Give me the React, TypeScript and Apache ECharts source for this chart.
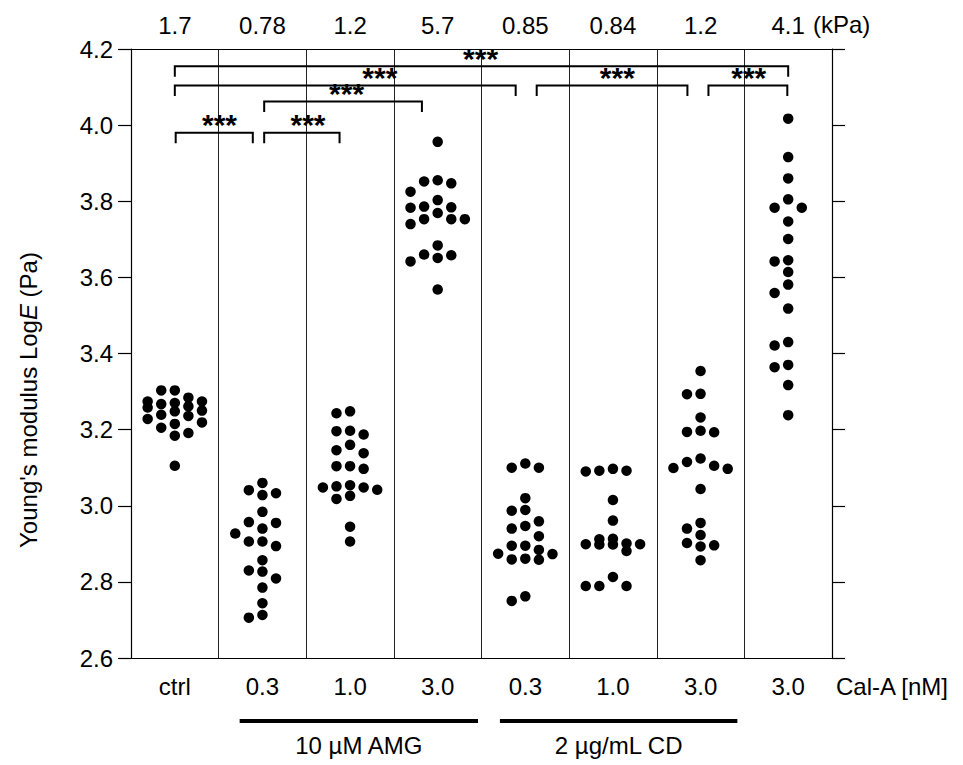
import React, { useEffect, useRef } from 'react';
import * as echarts from 'echarts';

// ---------- data ----------
const groupLabels = ['ctrl', '0.3', '1.0', '3.0', '0.3', '1.0', '3.0', '3.0'];
const modulusKPa = ['1.7', '0.78', '1.2', '5.7', '0.85', '0.84', '1.2', '4.1'];

const ctrl = [3.303, 3.270, 3.248, 3.215, 3.284, 3.261, 3.236, 3.191, 3.274, 3.258, 3.228, 3.184, 3.105, 3.303, 3.267, 3.239, 3.205, 3.274, 3.250, 3.219];
const amg03 = [3.041, 3.028, 3.033, 3.060, 2.984, 2.955, 2.957, 2.940, 2.927, 2.906, 2.906, 2.894, 2.857, 2.830, 2.827, 2.809, 2.785, 2.744, 2.713, 2.706];
const amg10 = [3.248, 3.243, 3.187, 3.196, 3.197, 3.160, 3.138, 3.146, 3.104, 3.097, 3.104, 3.048, 3.042, 3.051, 3.054, 3.048, 3.018, 3.026, 2.945, 2.906];
const amg30 = [3.956, 3.852, 3.847, 3.855, 3.825, 3.803, 3.784, 3.783, 3.786, 3.769, 3.753, 3.753, 3.740, 3.753, 3.684, 3.660, 3.651, 3.642, 3.658, 3.568];
const cd03 = [3.100, 3.100, 3.111, 3.020, 2.989, 2.987, 2.947, 2.940, 2.959, 2.920, 2.895, 2.884, 2.895, 2.874, 2.861, 2.858, 2.859, 2.873, 2.762, 2.750];
const cd10 = [3.092, 3.090, 3.092, 3.097, 3.015, 2.961, 2.912, 2.901, 2.898, 2.899, 2.881, 2.898, 2.913, 2.899, 2.813, 2.789, 2.789, 2.789];
const cd30 = [3.354, 3.294, 3.293, 3.232, 3.197, 3.193, 3.194, 3.124, 3.105, 3.097, 3.099, 3.115, 3.044, 2.955, 2.923, 2.940, 2.902, 2.893, 2.896, 2.857];
const calA30 = [4.017, 3.916, 3.860, 3.805, 3.783, 3.783, 3.747, 3.701, 3.645, 3.642, 3.614, 3.581, 3.559, 3.518, 3.430, 3.421, 3.370, 3.364, 3.317, 3.238];

const groupValues = [ctrl, amg03, amg10, amg30, cd03, cd10, cd30, calA30];

// significance brackets: [from (axis units), to, level (LogE), label position]
const brackets = [
  [0.5, 7.5, 4.155, 3.99],
  [0.5, 4.39, 4.104, 2.84],
  [1.52, 3.32, 4.062, 2.46],
  [0.51, 1.39, 3.98, 1.01],
  [1.52, 2.38, 3.98, 2.02],
  [4.63, 6.35, 4.104, 5.55],
  [6.59, 7.49, 4.104, 7.05],
];
const bracketLabel = '***';

const treatmentLabels = ['10 µM AMG', '2 µg/mL CD'];
const treatmentFrom = [1.24, 4.21];
const treatmentTo = [3.96, 6.92];

const yTicks = ['2.6', '2.8', '3.0', '3.2', '3.4', '3.6', '3.8', '4.0', '4.2'];

// ---------- layout helpers ----------
const FONT = "'Liberation Sans', Arial, sans-serif";
const COL_STEP = 0.155; // horizontal spacing of swarm columns (axis units)
const THRESH = 0.03; // min vertical gap (LogE) before moving to next column

function swarm(values: number[], gi: number): number[][] {
  const sorted = values.slice().sort((a, b) => b - a);
  const order = [0, -1, 1, -2, 2];
  const placed: Record<number, number[]> = {};
  const pts: number[][] = [];
  for (const v of sorted) {
    let best = 0;
    let bestGap = -1;
    for (const c of order) {
      const list = placed[c] || [];
      const gap = list.length ? Math.min(...list.map((u) => Math.abs(u - v))) : Infinity;
      if (gap >= THRESH) {
        best = c;
        break;
      }
      if (gap > bestGap) {
        bestGap = gap;
        best = c;
      }
    }
    (placed[best] = placed[best] || []).push(v);
    pts.push([gi + 0.5 + best * COL_STEP, v]);
  }
  return pts;
}

export default function App() {
  const ref = useRef<HTMLDivElement>(null);
  useEffect(() => {
    if (!ref.current) return;
    const chart = echarts.init(ref.current, null, { renderer: 'svg' });
    const points: number[][] = [];
    groupValues.forEach((vals, gi) => points.push(...swarm(vals, gi)));

    const option: any = {
      animation: false,
      backgroundColor: '#fff',
      textStyle: { fontFamily: FONT },
      grid: { left: 131, right: 131, top: 49, bottom: 107, containLabel: false },
      xAxis: [
        { type: 'value', min: 0, max: 8, show: false },
        {
          type: 'category',
          data: groupLabels,
          position: 'bottom',
          boundaryGap: true,
          axisLine: { show: true, onZero: false, lineStyle: { color: '#000', width: 1.2 } },
          axisTick: { show: false },
          axisLabel: { interval: 0, color: '#000', fontSize: 24, fontFamily: FONT, margin: 16 },
          splitLine: { show: true, interval: 0, lineStyle: { color: '#222', width: 1 } },
        },
        {
          type: 'category',
          data: modulusKPa,
          position: 'top',
          boundaryGap: true,
          axisLine: { show: true, onZero: false, lineStyle: { color: '#000', width: 1.2 } },
          axisTick: { show: false },
          axisLabel: { interval: 0, color: '#000', fontSize: 24, fontFamily: FONT, margin: 12 },
          splitLine: { show: false },
        },
      ],
      yAxis: [
        {
          type: 'value',
          min: 2.6,
          max: 4.2,
          interval: 0.2,
          position: 'left',
          axisLine: { show: true, onZero: false, lineStyle: { color: '#000', width: 1.2 } },
          axisTick: { show: true, inside: false, length: 13, lineStyle: { color: '#000', width: 1.2 } },
          axisLabel: {
            color: '#000',
            fontSize: 24,
            fontFamily: FONT,
            margin: 18,
            formatter: (v: number) => yTicks[Math.round((v - 2.6) / 0.2)] ?? v.toFixed(1),
          },
          splitLine: { show: false },
        },
        {
          type: 'value',
          min: 2.6,
          max: 4.2,
          interval: 0.2,
          position: 'right',
          axisLine: { show: true, onZero: false, lineStyle: { color: '#000', width: 1.2 } },
          axisTick: { show: true, inside: false, length: 13, lineStyle: { color: '#000', width: 1.2 } },
          axisLabel: { show: false },
          splitLine: { show: false },
        },
      ],
      series: [
        {
          type: 'scatter',
          xAxisIndex: 0,
          yAxisIndex: 0,
          data: points,
          symbol: 'circle',
          symbolSize: 10.5,
          itemStyle: { color: '#000', opacity: 1 },
          silent: true,
        },
        {
          type: 'custom',
          xAxisIndex: 0,
          yAxisIndex: 0,
          clip: false,
          silent: true,
          data: brackets,
          encode: { x: [0, 1], y: 2 },
          renderItem: (_p: any, api: any) => {
            const level = api.value(2);
            const a = api.coord([api.value(0), level]);
            const b = api.coord([api.value(1), level]);
            const t = api.coord([api.value(3), level]);
            const leg = 10.5;
            return {
              type: 'group',
              children: [
                {
                  type: 'polyline',
                  shape: { points: [[a[0], a[1] + leg], [a[0], a[1]], [b[0], b[1]], [b[0], b[1] + leg]] },
                  style: { stroke: '#000', lineWidth: 2, fill: null },
                },
                {
                  type: 'text',
                  x: t[0],
                  y: t[1] - 8,
                  style: {
                    text: bracketLabel,
                    fontSize: 30,
                    fontWeight: 'bold',
                    fontFamily: FONT,
                    align: 'center',
                    verticalAlign: 'middle',
                    fill: '#000',
                  },
                },
              ],
            };
          },
        },
        {
          type: 'custom',
          xAxisIndex: 0,
          yAxisIndex: 0,
          clip: false,
          silent: true,
          data: treatmentFrom.map((f, i) => [f, treatmentTo[i], 2.6, i]),
          encode: { x: [0, 1], y: 2 },
          renderItem: (_p: any, api: any) => {
            const a = api.coord([api.value(0), api.value(2)]);
            const b = api.coord([api.value(1), api.value(2)]);
            const idx = api.value(3);
            return {
              type: 'group',
              children: [
                {
                  type: 'line',
                  shape: { x1: a[0], y1: a[1] + 63, x2: b[0], y2: b[1] + 63 },
                  style: { stroke: '#000', lineWidth: 4 },
                },
                {
                  type: 'text',
                  x: (a[0] + b[0]) / 2,
                  y: a[1] + 87,
                  style: {
                    text: treatmentLabels[idx],
                    fontSize: 24,
                    fontFamily: FONT,
                    align: 'center',
                    verticalAlign: 'middle',
                    fill: '#000',
                  },
                },
              ],
            };
          },
        },
      ],
      graphic: [
        {
          type: 'text',
          x: 28,
          y: 400,
          rotation: Math.PI / 2,
          style: {
            text: "{n|Young's modulus Log}{i|E}{n| (Pa)}",
            align: 'center',
            verticalAlign: 'middle',
            fill: '#000',
            rich: {
              n: { fontSize: 24, fontFamily: FONT, fill: '#000' },
              i: { fontSize: 24, fontFamily: FONT, fontStyle: 'italic', fill: '#000' },
            },
          },
        },
        {
          type: 'text',
          x: 813,
          y: 24,
          style: { text: '(kPa)', fontSize: 24, fontFamily: FONT, fill: '#000', align: 'left', verticalAlign: 'middle' },
        },
        {
          type: 'text',
          x: 836,
          y: 686,
          style: { text: 'Cal-A [nM]', fontSize: 24, fontFamily: FONT, fill: '#000', align: 'left', verticalAlign: 'middle' },
        },
      ],
    };
    chart.setOption(option);
    return () => chart.dispose();
  }, []);
  return <div ref={ref} style={{ position: 'fixed', left: 0, top: 0, width: 963, height: 765 }} />;
}
